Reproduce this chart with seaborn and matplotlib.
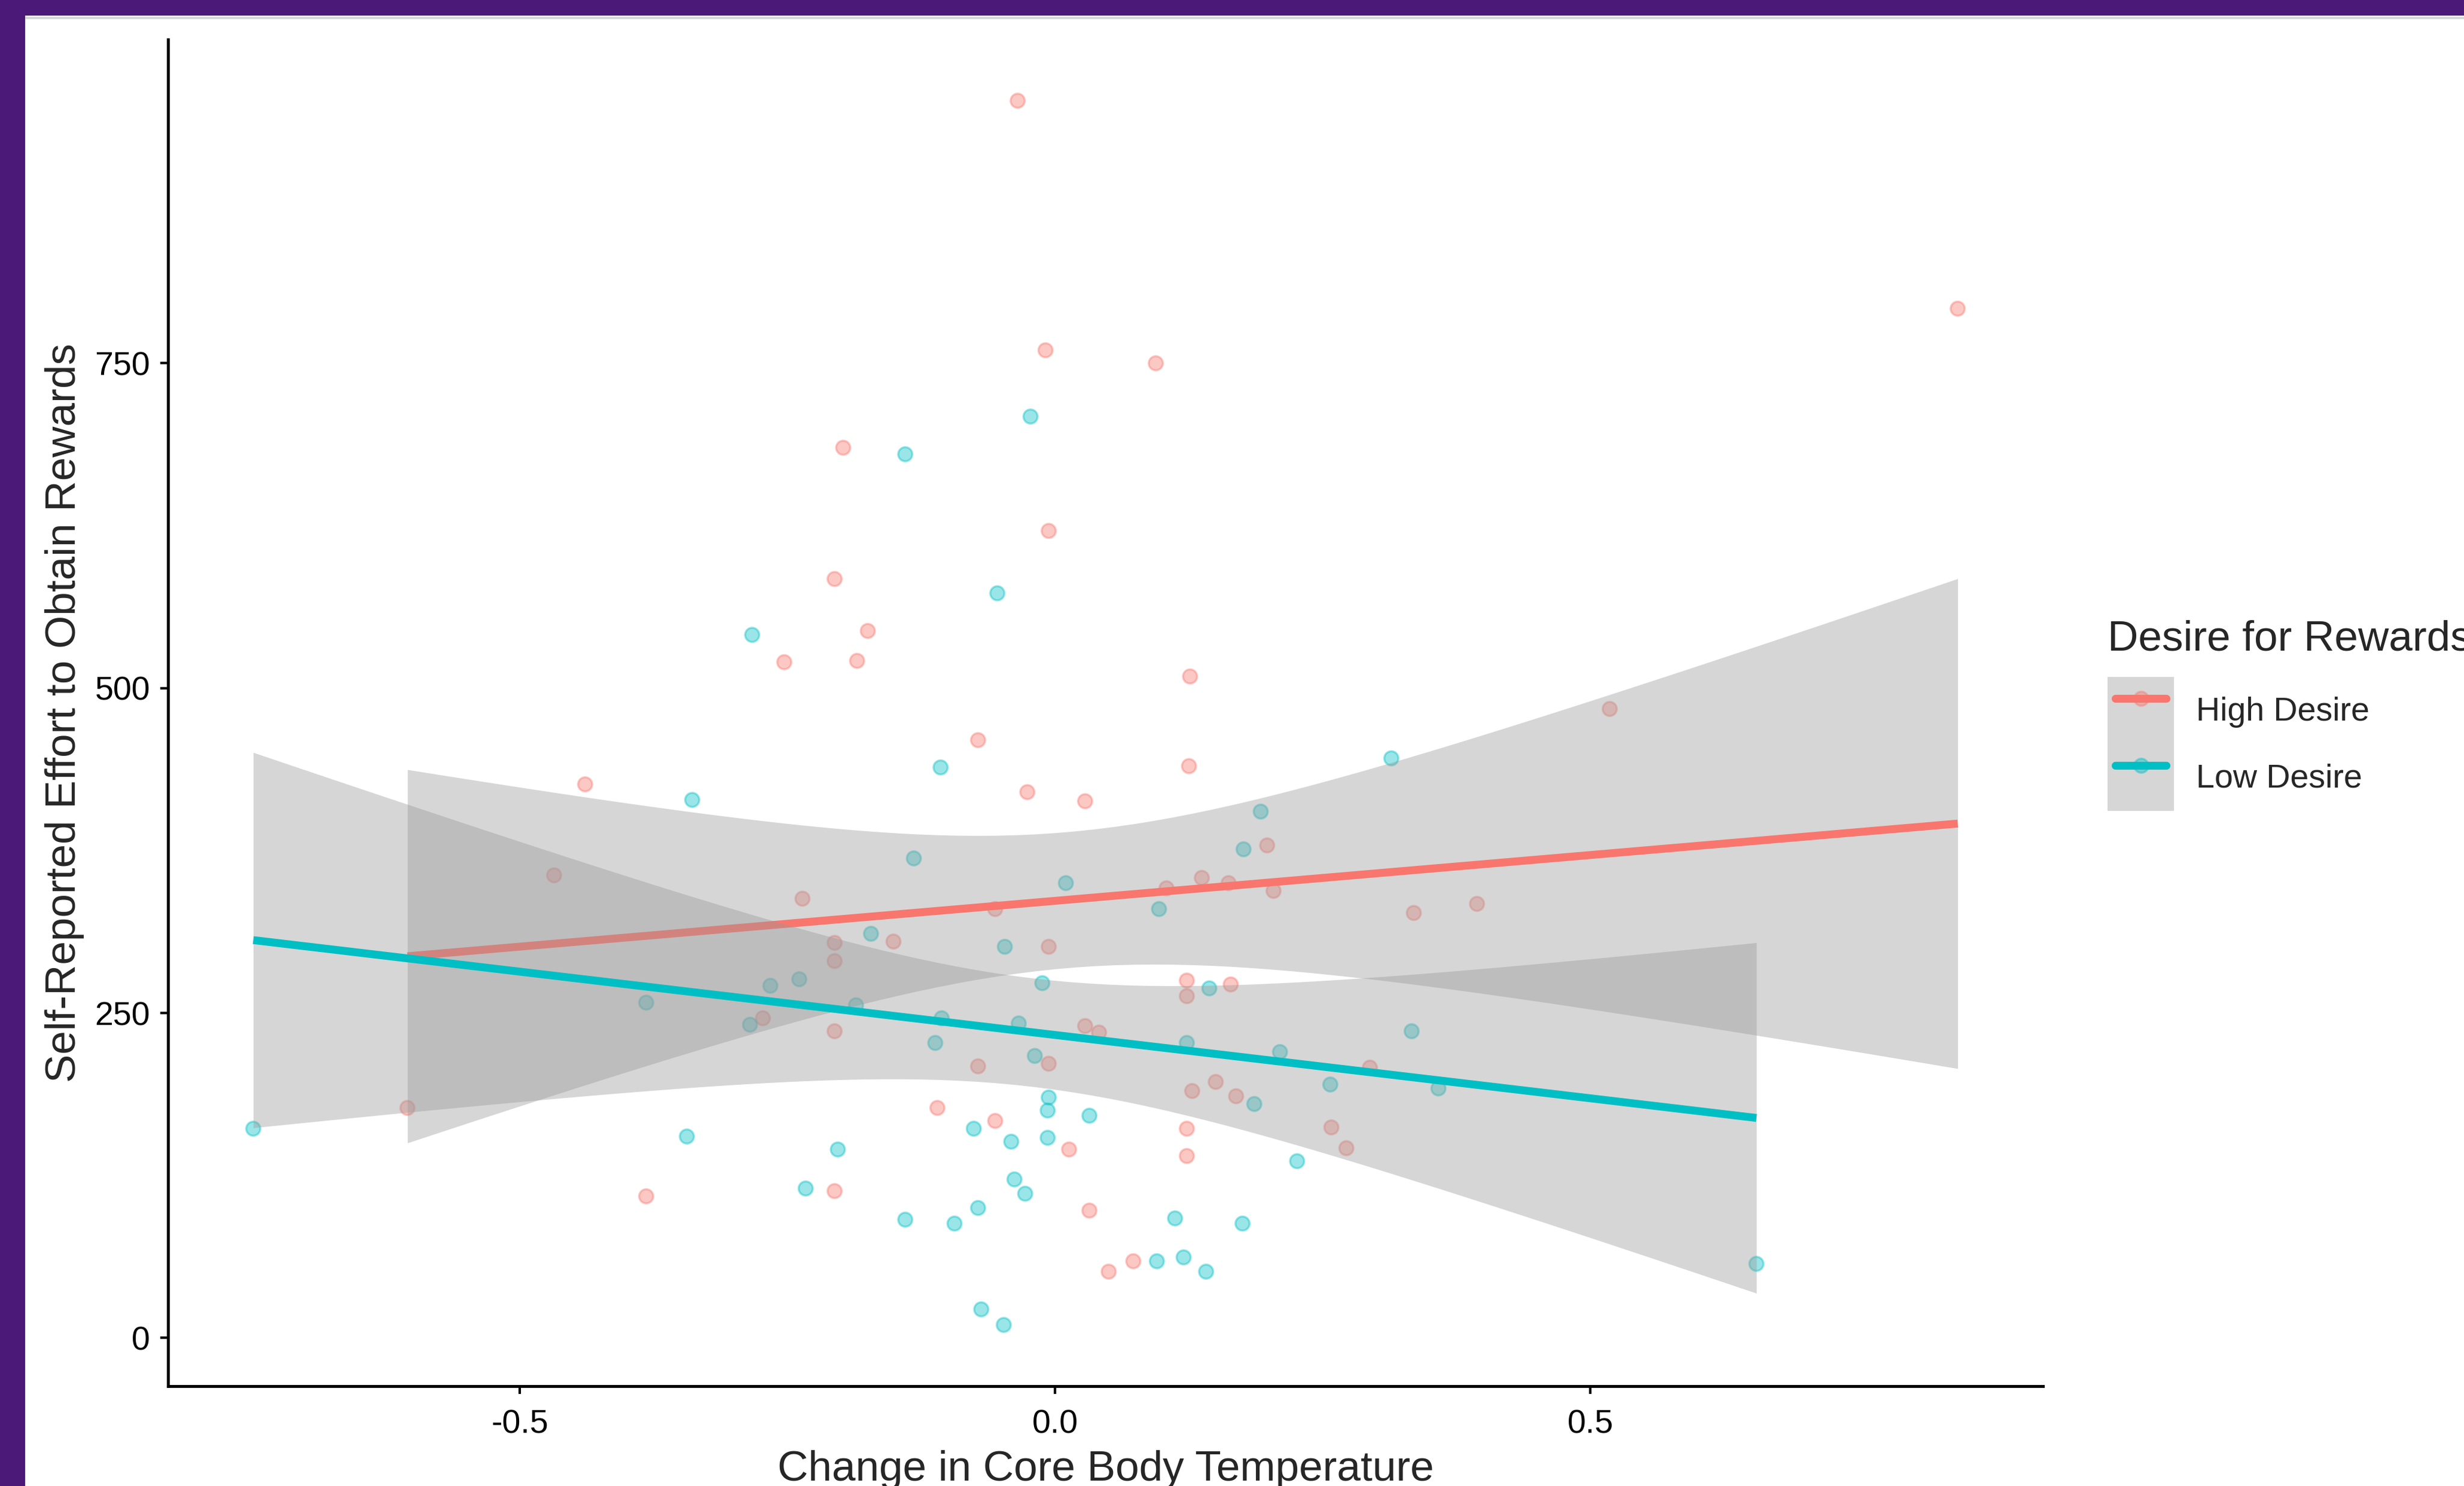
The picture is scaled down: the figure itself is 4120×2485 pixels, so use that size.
import numpy as np
import pandas as pd
import matplotlib
matplotlib.use("Agg")
import matplotlib.pyplot as plt
from matplotlib.lines import Line2D
from matplotlib.patches import Patch, Rectangle
from matplotlib.legend_handler import HandlerTuple, HandlerLine2D
import seaborn as sns

# values
high_x = [-0.605, -0.468, -0.439, -0.382, -0.273, -0.253, -0.236, -0.206, -0.206, -0.206,
          -0.206, -0.206, -0.198, -0.185, -0.175, -0.151, -0.110, -0.072, -0.072, -0.056,
          -0.056, -0.035, -0.026, -0.009, -0.006, -0.006, -0.006, 0.013, 0.028, 0.028,
          0.041, 0.032, 0.050, 0.073, 0.094, 0.104, 0.123, 0.123, 0.123, 0.123,
          0.126, 0.125, 0.128, 0.137, 0.150, 0.162, 0.164, 0.169, 0.198, 0.204,
          0.258, 0.272, 0.294, 0.335, 0.394, 0.518, 0.843]
high_y = [177, 356, 426, 109, 246, 520, 338, 304, 290, 236,
          113, 584, 685, 521, 544, 305, 177, 460, 209, 330,
          167, 952, 420, 760, 621, 301, 211, 145, 413, 240,
          235, 98, 51, 59, 750, 346, 275, 263, 161, 140,
          509, 440, 190, 354, 197, 350, 272, 186, 379, 344,
          162, 146, 208, 327, 334, 484, 792]

low_x = [-0.749, -0.382, -0.344, -0.339, -0.283, -0.285, -0.266, -0.239, -0.233, -0.203,
         -0.186, -0.172, -0.140, -0.140, -0.132, -0.107, -0.106, -0.112, -0.094, -0.076,
         -0.072, -0.069, -0.054, -0.048, -0.047, -0.041, -0.038, -0.034, -0.028, -0.023,
         -0.019, -0.012, -0.007, -0.007, -0.006, 0.010, 0.032, 0.095, 0.097, 0.112,
         0.120, 0.123, 0.141, 0.144, 0.175, 0.176, 0.186, 0.192, 0.210, 0.226,
         0.257, 0.314, 0.333, 0.358, 0.655]
low_y = [161, 258, 155, 414, 541, 241, 271, 276, 115, 145,
         256, 311, 680, 91, 369, 439, 246, 227, 88, 161,
         100, 22, 573, 10, 301, 151, 122, 242, 111, 709,
         217, 273, 175, 154, 185, 350, 171, 59, 330, 92,
         62, 227, 51, 269, 88, 376, 180, 405, 220, 136,
         195, 446, 236, 192, 57]

groups = ["High Desire", "Low Desire"]
colors = {"High Desire": "#F8766D", "Low Desire": "#00BFC4"}

df = pd.concat([
    pd.DataFrame({"temp": high_x, "effort": high_y, "desire": "High Desire"}),
    pd.DataFrame({"temp": low_x, "effort": low_y, "desire": "Low Desire"}),
], ignore_index=True)


def lm_band(x, y, grid, t=2.005):
    # 95% confidence band of an OLS line (same as ggplot's geom_smooth(method="lm"))
    x = np.asarray(x, float)
    y = np.asarray(y, float)
    n = len(x)
    b1, b0 = np.polyfit(x, y, 1)
    resid = y - (b0 + b1 * x)
    s = np.sqrt((resid ** 2).sum() / (n - 2))
    sxx = ((x - x.mean()) ** 2).sum()
    fit = b0 + b1 * grid
    se = s * np.sqrt(1 / n + (grid - x.mean()) ** 2 / sxx)
    return fit - t * se, fit + t * se


class InsetLine(HandlerLine2D):
    # legend line a bit shorter than its grey key box
    def create_artists(self, legend, orig_handle, xdescent, ydescent, width, height,
                       fontsize, trans):
        d = 0.12 * width
        return super().create_artists(legend, orig_handle, xdescent - d, ydescent,
                                      width - 2 * d, height, fontsize, trans)


sns.set_style("ticks")
plt.rcParams["font.family"] = ["Liberation Sans", "DejaVu Sans"]

fig = plt.figure(figsize=(16.48, 9.94), dpi=250)
ax = fig.add_axes([0.0682, 0.0672, 0.7609, 0.9062])

sns.scatterplot(data=df, x="temp", y="effort", hue="desire", palette=colors,
                s=46, alpha=0.4, edgecolor="face", linewidth=1.0,
                legend=False, ax=ax, zorder=1)

# ribbon + line per group, the second group's ribbon covers the first line (like ggplot)
z = 2
for g in groups:
    sub = df[df["desire"] == g]
    grid = np.linspace(sub["temp"].min(), sub["temp"].max(), 80)
    lo, hi = lm_band(sub["temp"], sub["effort"], grid)
    ax.fill_between(grid, lo, hi, color="#999999", alpha=0.4, linewidth=0, zorder=z)
    n_lines = len(ax.lines)
    sns.regplot(data=sub, x="temp", y="effort", scatter=False, ci=None,
                color=colors[g], line_kws={"linewidth": 3.8, "solid_capstyle": "butt"},
                ax=ax)
    for ln in ax.lines[n_lines:]:
        ln.set_zorder(z + 1)
    z += 2

xr = df["temp"].max() - df["temp"].min()
yr = df["effort"].max() - df["effort"].min()
ax.set_xlim(df["temp"].min() - 0.05 * xr, df["temp"].max() + 0.05 * xr)
ax.set_ylim(df["effort"].min() - 0.05 * yr, df["effort"].max() + 0.05 * yr)

ax.set_xticks([-0.5, 0.0, 0.5])
ax.set_xticklabels(["-0.5", "0.0", "0.5"])
ax.set_yticks([0, 250, 500, 750])
ax.set_yticklabels(["0", "250", "500", "750"])

sns.despine(ax=ax)
for side in ["left", "bottom"]:
    ax.spines[side].set_linewidth(1.4)
    ax.spines[side].set_color("black")
ax.tick_params(length=3.7, width=1.2, color="black", labelsize=16, labelcolor="black")
ax.tick_params(axis="x", pad=7.5)
ax.tick_params(axis="y", pad=5)

ax.set_xlabel("Change in Core Body Temperature", fontsize=20.5, labelpad=4.5)
ax.set_ylabel("Self-Reported Effort to Obtain Rewards", fontsize=20.5, labelpad=5)

# legend: title as its own text, keys with the grey ribbon behind them
fig.text(3524 / 4120, 1 - 1069 / 2485, "Desire for Rewards", fontsize=20.5,
         ha="left", va="center")
handles = []
for g in groups:
    handles.append((Patch(facecolor="#999999", alpha=0.4, edgecolor="none"),
                    Line2D([], [], marker="o", linestyle="none", markersize=6.8,
                           color=colors[g], alpha=0.4),
                    Line2D([], [], color=colors[g], linewidth=3.8)))
fig.legend(handles, groups, loc="upper left",
           bbox_to_anchor=(3524 / 4120, 1 - 1132 / 2485), frameon=False,
           fontsize=16, handlelength=2.0, handleheight=2.72,
           labelspacing=0, handletextpad=0.67, borderpad=0, borderaxespad=0,
           handler_map={tuple: HandlerTuple(ndivide=1, pad=0), Line2D: InsetLine()})

# purple slide frame
purple = "#4B1978"
fig.add_artist(Rectangle((0, 0), 42 / 4120, 1, transform=fig.transFigure,
                         facecolor=purple, edgecolor="none", zorder=10))
fig.add_artist(Rectangle((0, 1 - 26 / 2485), 1, 26 / 2485, transform=fig.transFigure,
                         facecolor=purple, edgecolor="none", zorder=10))
fig.add_artist(Line2D([42 / 4120, 1], [1 - 30 / 2485] * 2, transform=fig.transFigure,
                      color="#D8D8D8", linewidth=1.2))

fig.savefig("out.png", dpi=250)
